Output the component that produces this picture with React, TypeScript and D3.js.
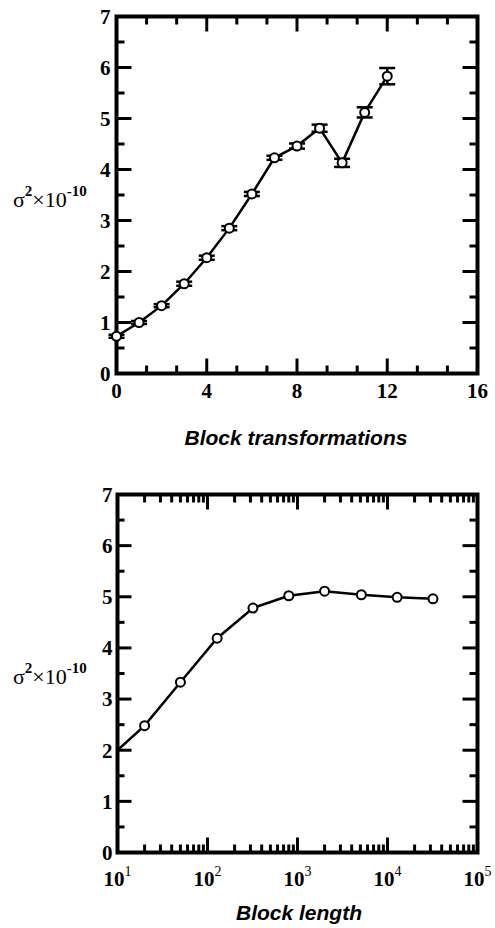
import React from "react";
import * as d3 from "d3";

// Variance versus number of block transformations (with error bars)
const stepCount = [0, 1, 2, 3, 4, 5, 6, 7, 8, 9, 10, 11, 12];
const stepVariance = [0.73, 1.0, 1.33, 1.76, 2.27, 2.85, 3.52, 4.23, 4.46, 4.81, 4.13, 5.12, 5.83];
const stepError = [0.03, 0.03, 0.03, 0.04, 0.04, 0.04, 0.04, 0.04, 0.05, 0.07, 0.08, 0.1, 0.16];

// Variance versus block length
const blockLength = [10, 20, 50, 128, 320, 800, 2000, 5120, 12800, 32000];
const lengthVariance = [2.0, 2.48, 3.33, 4.19, 4.78, 5.02, 5.11, 5.04, 4.99, 4.96];
// the first sample sits on the left frame and is drawn without a marker
const lengthMarked = [false, true, true, true, true, true, true, true, true, true];

const yTicks = [0, 1, 2, 3, 4, 5, 6, 7];
const stepTicks = [0, 4, 8, 12, 16];
const decadeTicks = [10, 100, 1000, 10000, 100000];

const SERIF = "'Liberation Serif', 'Times New Roman', serif";
const SANS = "'Liberation Sans', Arial, sans-serif";

const LEFT = 116.5;
const RIGHT = 477.5;
const MAJOR = 15;
const MINOR = 8;

function YAxisLabel({ y }: { y: number }) {
  return (
    <text x={13} y={y} fontFamily={SERIF} fontSize={22} fill="#000">
      <tspan>σ</tspan>
      <tspan dy={-11} fontSize={15} fontWeight="bold">2</tspan>
      <tspan dy={11}>×10</tspan>
      <tspan dy={-11} fontSize={15} fontWeight="bold">-10</tspan>
    </text>
  );
}

function YTicks({ y }: { y: d3.ScaleLinear<number, number> }) {
  const minors = d3.range(0.5, 7, 1);
  return (
    <g stroke="#000" strokeWidth={3}>
      {yTicks.map((t) => (
        <g key={"M" + t}>
          <line x1={LEFT} x2={LEFT + MAJOR} y1={y(t)} y2={y(t)} />
          <line x1={RIGHT} x2={RIGHT - MAJOR} y1={y(t)} y2={y(t)} />
        </g>
      ))}
      {minors.map((t) => (
        <g key={"m" + t}>
          <line x1={LEFT} x2={LEFT + MINOR} y1={y(t)} y2={y(t)} />
          <line x1={RIGHT} x2={RIGHT - MINOR} y1={y(t)} y2={y(t)} />
        </g>
      ))}
    </g>
  );
}

function YTickLabels({ y }: { y: d3.ScaleLinear<number, number> }) {
  return (
    <g fontFamily={SERIF} fontSize={21} fontWeight="bold" textAnchor="end">
      {yTicks.map((t) => (
        <text key={t} x={LEFT - 6} y={y(t)} dy="0.35em">
          {t}
        </text>
      ))}
    </g>
  );
}

function XTicks({ xs, len, top, bottom }: { xs: number[]; len: number; top: number; bottom: number }) {
  return (
    <g stroke="#000" strokeWidth={3}>
      {xs.map((px, i) => (
        <g key={i}>
          <line x1={px} x2={px} y1={bottom} y2={bottom - len} />
          <line x1={px} x2={px} y1={top} y2={top + len} />
        </g>
      ))}
    </g>
  );
}

function StepPanel() {
  const top = 16.5;
  const bottom = 373.5;
  const x = d3.scaleLinear().domain([0, 16]).range([LEFT, RIGHT]);
  const y = d3.scaleLinear().domain([0, 7]).range([bottom, top]);
  const pts = stepCount.map((c, i) => ({ c, v: stepVariance[i], e: stepError[i] }));
  const line = d3
    .line<{ c: number; v: number }>()
    .x((d) => x(d.c))
    .y((d) => y(d.v));
  const minorSteps = d3.range(0, 16, 4 / 3).filter((t) => Math.abs(t - Math.round(t / 4) * 4) > 0.01);
  return (
    <g>
      <YTicks y={y} />
      <XTicks xs={stepTicks.map((t) => x(t))} len={MAJOR} top={top} bottom={bottom} />
      <XTicks xs={minorSteps.map((t) => x(t))} len={MINOR} top={top} bottom={bottom} />
      <rect x={LEFT} y={top} width={RIGHT - LEFT} height={bottom - top} fill="none" stroke="#000" strokeWidth={4} />
      <YTickLabels y={y} />
      <g fontFamily={SERIF} fontSize={21} fontWeight="bold" textAnchor="middle">
        {stepTicks.map((t) => (
          <text key={t} x={x(t)} y={bottom + 24}>
            {t}
          </text>
        ))}
      </g>
      <path d={line(pts) || ""} fill="none" stroke="#000" strokeWidth={2.5} />
      <g stroke="#000" strokeWidth={2.5}>
        {pts.map((d) => (
          <g key={d.c}>
            <line x1={x(d.c)} x2={x(d.c)} y1={y(d.v - d.e)} y2={y(d.v + d.e)} />
            <line x1={x(d.c) - 8} x2={x(d.c) + 8} y1={y(d.v + d.e)} y2={y(d.v + d.e)} />
            <line x1={x(d.c) - 8} x2={x(d.c) + 8} y1={y(d.v - d.e)} y2={y(d.v - d.e)} />
          </g>
        ))}
      </g>
      <g fill="#fff" stroke="#000" strokeWidth={2}>
        {pts.map((d) => (
          <circle key={d.c} cx={x(d.c)} cy={y(d.v)} r={4.5} />
        ))}
      </g>
      <YAxisLabel y={207} />
      <text
        x={296}
        y={445}
        fontFamily={SANS}
        fontSize={21}
        fontWeight="bold"
        fontStyle="italic"
        textAnchor="middle"
      >
        Block transformations
      </text>
    </g>
  );
}

function LengthPanel() {
  const top = 494.5;
  const bottom = 852.5;
  const x = d3.scaleLog().domain([10, 100000]).range([LEFT + 1, RIGHT]);
  const y = d3.scaleLinear().domain([0, 7]).range([bottom, top]);
  const pts = blockLength.map((b, i) => ({ b, v: lengthVariance[i], m: lengthMarked[i] }));
  const line = d3
    .line<{ b: number; v: number }>()
    .x((d) => x(d.b))
    .y((d) => y(d.v));
  const minors: number[] = [];
  decadeTicks.slice(0, -1).forEach((d) => {
    for (let k = 2; k <= 9; k++) minors.push(d * k);
  });
  return (
    <g>
      <YTicks y={y} />
      <XTicks xs={decadeTicks.map((t) => x(t))} len={MAJOR} top={top} bottom={bottom} />
      <XTicks xs={minors.map((t) => x(t))} len={MINOR} top={top} bottom={bottom} />
      <rect x={LEFT + 1} y={top} width={RIGHT - LEFT - 1} height={bottom - top} fill="none" stroke="#000" strokeWidth={4} />
      <g fontFamily={SERIF} fontSize={21} fontWeight="bold" textAnchor="end">
        {yTicks.map((t) => (
          <text key={t} x={LEFT - 4} y={y(t)} dy="0.35em">
            {t}
          </text>
        ))}
      </g>
      <g fontFamily={SERIF} fontSize={21} fontWeight="bold" textAnchor="middle">
        {decadeTicks.map((t) => (
          <text key={t} x={x(t)} y={bottom + 33}>
            <tspan>10</tspan>
            <tspan dy={-10} fontSize={14} fontWeight="normal">
              {Math.round(Math.log10(t))}
            </tspan>
          </text>
        ))}
      </g>
      <path d={line(pts) || ""} fill="none" stroke="#000" strokeWidth={2.5} />
      <g fill="#fff" stroke="#000" strokeWidth={2}>
        {pts
          .filter((d) => d.m)
          .map((d) => (
            <circle key={d.b} cx={x(d.b)} cy={y(d.v)} r={4.5} />
          ))}
      </g>
      <YAxisLabel y={684} />
      <text
        x={299}
        y={920}
        fontFamily={SANS}
        fontSize={21}
        fontWeight="bold"
        fontStyle="italic"
        textAnchor="middle"
      >
        Block length
      </text>
    </g>
  );
}

export default function App() {
  return (
    <svg
      width={495}
      height={928}
      viewBox="0 0 495 928"
      style={{ position: "absolute", left: 0, top: 0, background: "#fff" }}
    >
      <rect width={495} height={928} fill="#fff" />
      <StepPanel />
      <LengthPanel />
    </svg>
  );
}
